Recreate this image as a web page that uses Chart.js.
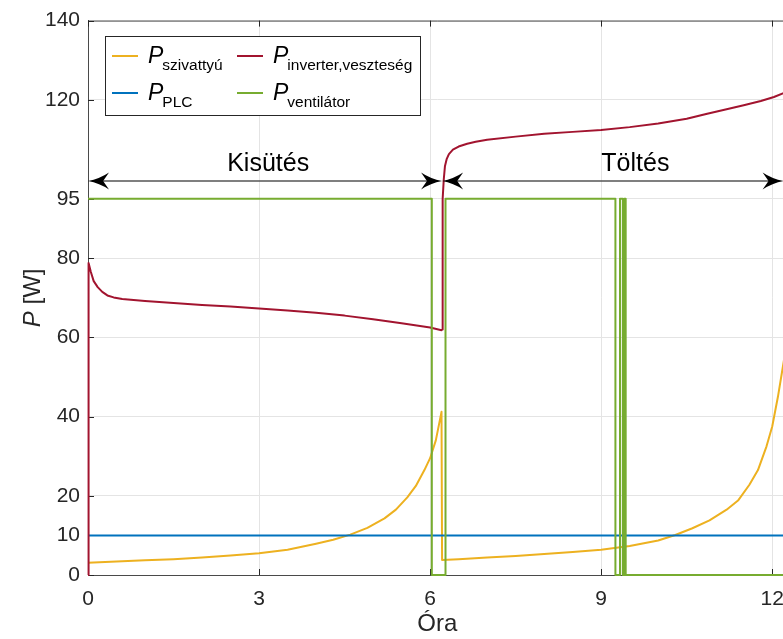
<!DOCTYPE html>
<html>
<head>
<meta charset="utf-8">
<script src="https://cdn.jsdelivr.net/npm/chart.js@4.4.1/dist/chart.umd.min.js"></script>
<style>
  html, body { margin: 0; padding: 0; overflow: hidden; background: #ffffff; }
  #wrap { width: 810px; height: 639px; }
  canvas { display: block; }
</style>
</head>
<body>
<div id="wrap"><canvas id="chart" width="796" height="639"></canvas></div>
<script>
// Axis ticks
const hourTicks = [0, 3, 6, 9, 12];
const powerTicks = [0, 10, 20, 40, 60, 80, 95, 120, 140];

// [hour, watt] samples of each power series
const pumpPower = [
  [0, 3.1], [0.5, 3.4], [1.0, 3.7], [1.5, 4.0], [2.0, 4.4], [2.5, 4.9], [3.0, 5.5],
  [3.5, 6.4], [4.0, 7.9], [4.3, 8.9], [4.6, 10.2], [4.9, 11.9], [5.2, 14.3], [5.4, 16.5],
  [5.6, 19.6], [5.75, 22.5], [5.9, 26.5], [6.0, 29.5], [6.1, 34.0], [6.2, 41.2],
  [6.21, 3.8], [6.5, 4.0], [7.0, 4.4], [7.5, 4.8], [8.0, 5.3], [8.5, 5.8], [9.0, 6.4],
  [9.5, 7.3], [10.0, 8.7], [10.3, 10.1], [10.6, 11.8], [10.9, 13.8], [11.2, 16.5],
  [11.4, 18.8], [11.6, 22.8], [11.75, 26.5], [11.9, 32.5], [12.0, 37.5], [12.1, 45.0],
  [12.22, 55.5]
];
const inverterLoss = [
  [0, 0], [0.01, 78.8], [0.05, 76.5], [0.1, 74.2], [0.17, 72.7], [0.25, 71.5], [0.34, 70.6],
  [0.45, 70.1], [0.6, 69.7], [1.0, 69.2], [1.5, 68.7], [2.0, 68.2], [2.5, 67.8], [3.0, 67.3],
  [3.5, 66.8], [4.0, 66.2], [4.5, 65.5], [5.0, 64.6], [5.5, 63.6], [6.0, 62.5], [6.2, 61.8],
  [6.21, 62.0], [6.215, 80.0], [6.225, 95.0], [6.24, 100.0], [6.26, 103.2], [6.29, 105.0],
  [6.33, 106.3], [6.4, 107.4], [6.5, 108.2], [6.65, 108.9], [6.8, 109.4], [7.0, 109.9],
  [7.5, 110.7], [8.0, 111.4], [8.5, 111.9], [9.0, 112.4], [9.5, 113.1], [10.0, 114.0],
  [10.5, 115.2], [10.86, 116.5], [11.2, 117.6], [11.5, 118.6], [11.8, 119.7], [12.03, 120.7],
  [12.22, 121.8]
];
const plcPower = [[0, 10], [12.25, 10]];
const fanPower = [
  [0, 95], [6.03, 95], [6.03, 0], [6.27, 0], [6.27, 95], [9.25, 95], [9.25, 0],
  [9.33, 0], [9.33, 95], [9.38, 95], [9.38, 0], [9.405, 0], [9.405, 95], [9.43, 95],
  [9.43, 0], [12.25, 0]
];

// Legend entries (row by row): main symbol and subscript
const legendSymbols = ['P', 'P', 'P', 'P'];
const legendSubscripts = ['szivattyú', 'inverter,veszteség', 'PLC', 'ventilátor'];
const legendColors = ['#EDB120', '#A2142F', '#0072BD', '#77AC30'];

// Operating phases shown as double arrows
const phaseNames = ['Kisütés', 'Töltés'];
const phaseStart = [0, 6.21];
const phaseEnd = [6.21, 12.2];
const phaseLabelHour = [3.16, 9.6];
const phaseArrowLevel = 99.5;
const phaseLabelLevel = 103.8;

const FONT = '"Liberation Sans", Arial, Helvetica, sans-serif';
const AXIS_COLOR = '#4a4a4a';
const TEXT_COLOR = '#262626';

const toXY = arr => arr.map(p => ({ x: p[0], y: p[1] }));

// Top frame line and inward tick marks
const framePlugin = {
  id: 'frame',
  beforeDatasetsDraw(chart) {
    const { ctx, chartArea: a, scales: { x, y } } = chart;
    ctx.save();
    ctx.strokeStyle = AXIS_COLOR;
    ctx.lineWidth = 1;
    ctx.beginPath();
    ctx.moveTo(a.left, a.top + 0.5);
    ctx.lineTo(a.right, a.top + 0.5);
    ctx.stroke();
    ctx.strokeStyle = TEXT_COLOR;
    ctx.beginPath();
    hourTicks.forEach(v => {
      const px = Math.round(x.getPixelForValue(v)) + 0.5;
      ctx.moveTo(px, a.bottom); ctx.lineTo(px, a.bottom - 6);
      ctx.moveTo(px, a.top); ctx.lineTo(px, a.top + 6);
    });
    powerTicks.forEach(v => {
      const py = Math.round(y.getPixelForValue(v)) + 0.5;
      ctx.moveTo(a.left, py); ctx.lineTo(a.left + 6, py);
    });
    ctx.stroke();
    ctx.restore();
  }
};

function arrowHead(ctx, tipX, tipY, dir) {
  const L = 21, W = 8.5;
  ctx.beginPath();
  ctx.moveTo(tipX, tipY);
  ctx.quadraticCurveTo(tipX - dir * L * 0.55, tipY - W * 0.25, tipX - dir * L, tipY - W);
  ctx.lineTo(tipX - dir * L * 0.72, tipY);
  ctx.lineTo(tipX - dir * L, tipY + W);
  ctx.quadraticCurveTo(tipX - dir * L * 0.55, tipY + W * 0.25, tipX, tipY);
  ctx.closePath();
  ctx.fill();
}

// Double arrows with phase names
const phasePlugin = {
  id: 'phases',
  afterDatasetsDraw(chart) {
    const { ctx, scales: { x, y } } = chart;
    ctx.save();
    const py = y.getPixelForValue(phaseArrowLevel);
    phaseNames.forEach((name, i) => {
      const x1 = x.getPixelForValue(phaseStart[i]);
      const x2 = x.getPixelForValue(phaseEnd[i]);
      ctx.strokeStyle = '#555555';
      ctx.lineWidth = 1.3;
      ctx.beginPath();
      ctx.moveTo(x1 + 6, py); ctx.lineTo(x2 - 6, py);
      ctx.stroke();
      ctx.fillStyle = '#000000';
      arrowHead(ctx, x1, py, -1);
      arrowHead(ctx, x2, py, 1);
      ctx.font = '25px ' + FONT;
      ctx.textAlign = 'center';
      ctx.textBaseline = 'middle';
      ctx.fillText(name, x.getPixelForValue(phaseLabelHour[i]), y.getPixelForValue(phaseLabelLevel));
    });
    ctx.restore();
  }
};

// Two-column legend with subscripted labels
const legendPlugin = {
  id: 'subLegend',
  afterDatasetsDraw(chart) {
    const { ctx } = chart;
    const box = { left: 105.5, top: 36.5, right: 420.5, bottom: 115.5 };
    const colX = [112, 237];
    const rowY = [56, 93];
    ctx.save();
    ctx.fillStyle = '#ffffff';
    ctx.fillRect(box.left, box.top, box.right - box.left, box.bottom - box.top);
    ctx.strokeStyle = TEXT_COLOR;
    ctx.lineWidth = 1;
    ctx.strokeRect(box.left, box.top, box.right - box.left, box.bottom - box.top);
    legendSubscripts.forEach((sub, i) => {
      const cx = colX[i % 2];
      const cy = rowY[Math.floor(i / 2)];
      ctx.strokeStyle = legendColors[i];
      ctx.lineWidth = 2;
      ctx.beginPath();
      ctx.moveTo(cx, cy); ctx.lineTo(cx + 26, cy);
      ctx.stroke();
      ctx.fillStyle = '#000000';
      ctx.textAlign = 'left';
      ctx.textBaseline = 'alphabetic';
      ctx.font = 'italic 23px ' + FONT;
      ctx.fillText(legendSymbols[i], cx + 36, cy + 7);
      const w = ctx.measureText(legendSymbols[i]).width;
      ctx.font = '15.5px ' + FONT;
      ctx.fillText(sub, cx + 36 + w - 1, cy + 14);
    });
    ctx.restore();
  }
};

// Axis titles
const titlePlugin = {
  id: 'axisTitles',
  afterDraw(chart) {
    const { ctx, chartArea: a } = chart;
    ctx.save();
    ctx.fillStyle = TEXT_COLOR;
    ctx.font = '24px ' + FONT;
    ctx.textAlign = 'center';
    ctx.textBaseline = 'middle';
    ctx.fillText('Óra', (a.left + a.right) / 2, 624);
    ctx.translate(33, (a.top + a.bottom) / 2);
    ctx.rotate(-Math.PI / 2);
    ctx.font = 'italic 24px ' + FONT;
    const wP = ctx.measureText('P').width;
    ctx.font = '24px ' + FONT;
    const wR = ctx.measureText(' [W]').width;
    const start = -(wP + wR) / 2;
    ctx.textAlign = 'left';
    ctx.font = 'italic 24px ' + FONT;
    ctx.fillText('P', start, 0);
    ctx.font = '24px ' + FONT;
    ctx.fillText(' [W]', start + wP, 0);
    ctx.restore();
  }
};

const lineStyle = (color, order) => ({
  borderColor: color,
  backgroundColor: color,
  borderWidth: 2,
  pointRadius: 0,
  tension: 0,
  fill: false,
  borderJoinStyle: 'round',
  order: order,
  clip: 3
});

new Chart(document.getElementById('chart').getContext('2d'), {
  type: 'line',
  data: {
    datasets: [
      Object.assign({ label: 'P szivattyú', data: toXY(pumpPower) }, lineStyle(legendColors[0], 3)),
      Object.assign({ label: 'P inverter,veszteség', data: toXY(inverterLoss) }, lineStyle(legendColors[1], 1)),
      Object.assign({ label: 'P PLC', data: toXY(plcPower) }, lineStyle(legendColors[2], 2)),
      Object.assign({ label: 'P ventilátor', data: toXY(fanPower) }, lineStyle(legendColors[3], 0))
    ]
  },
  options: {
    responsive: false,
    animation: false,
    devicePixelRatio: 1,
    layout: { padding: { top: 20, right: 5, left: 0, bottom: 0 } },
    plugins: { legend: { display: false }, tooltip: { enabled: false } },
    scales: {
      x: {
        type: 'linear',
        min: 0,
        max: 12.25,
        afterBuildTicks: s => { s.ticks = hourTicks.map(v => ({ value: v })); },
        afterFit: s => { s.height = 64; },
        grid: { color: '#e4e4e4', lineWidth: 1, drawTicks: false },
        border: { color: AXIS_COLOR, width: 1 },
        ticks: { font: { family: FONT, size: 21 }, color: TEXT_COLOR, padding: 12, maxRotation: 0, autoSkip: false }
      },
      y: {
        type: 'linear',
        min: 0,
        max: 140,
        afterBuildTicks: s => { s.ticks = powerTicks.map(v => ({ value: v })); },
        afterFit: s => { s.width = 88; },
        grid: { color: '#e4e4e4', lineWidth: 1, drawTicks: false },
        border: { color: AXIS_COLOR, width: 1 },
        ticks: { font: { family: FONT, size: 21 }, color: TEXT_COLOR, padding: 8, autoSkip: false }
      }
    }
  },
  plugins: [framePlugin, phasePlugin, legendPlugin, titlePlugin]
});
</script>
</body>
</html>
